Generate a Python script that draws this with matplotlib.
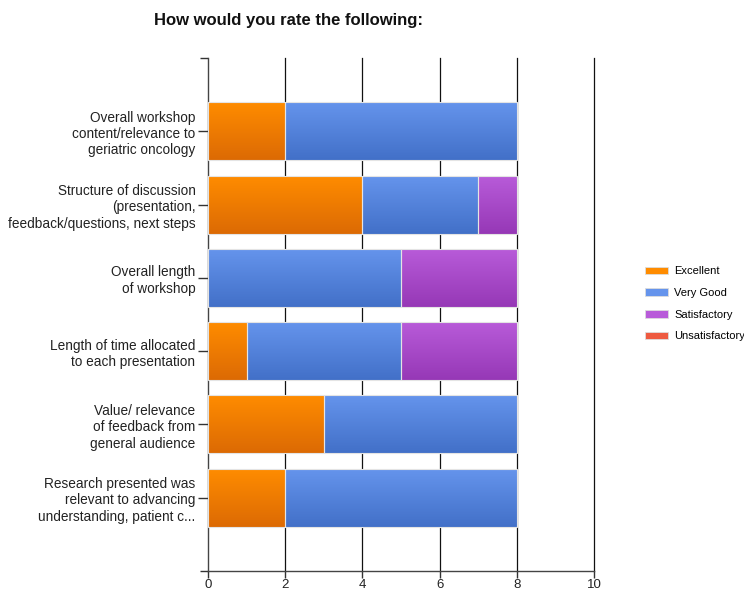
import numpy as np
import matplotlib.pyplot as plt
from matplotlib.colors import LinearSegmentedColormap
from matplotlib.patches import Patch

plt.rcParams['font.family'] = ['Liberation Sans', 'DejaVu Sans']

categories = [
    "Overall workshop\ncontent/relevance to\ngeriatric oncology",
    "Structure of discussion\n(presentation,\nfeedback/questions, next steps",
    "Overall length\nof workshop",
    "Length of time allocated\nto each presentation",
    "Value/ relevance\nof feedback from\ngeneral audience",
    "Research presented was\nrelevant to advancing\nunderstanding, patient c...",
]
series_names = ["Excellent", "Very Good", "Satisfactory", "Unsatisfactory"]
excellent = [2, 4, 0, 1, 3, 2]
very_good = [6, 3, 5, 4, 5, 6]
satisfactory = [0, 1, 3, 3, 0, 0]
unsatisfactory = [0, 0, 0, 0, 0, 0]
x_ticks = [0, 2, 4, 6, 8, 10]

# (top colour, bottom colour) for each series' vertical gradient
gradients = [
    ("#ff8c00", "#dc6a04"),
    ("#6594ec", "#4270c8"),
    ("#b85bd9", "#9638b6"),
    ("#ee5a40", "#d8402a"),
]

fig = plt.figure(figsize=(7.44, 5.92), dpi=100)
ax = fig.add_axes([208 / 744, 21 / 592, 386 / 744, 513 / 592])

n = len(categories)
ypos = np.arange(n, 0, -1)  # first category at the top
bar_h = 0.79

left = np.zeros(n)
grad = np.linspace(0, 1, 256).reshape(-1, 1)
for vals, (c_top, c_bot) in zip([excellent, very_good, satisfactory, unsatisfactory], gradients):
    vals = np.array(vals, dtype=float)
    bars = ax.barh(ypos, vals, left=left, height=bar_h, color=c_top,
                   edgecolor="#e4e4e4", linewidth=0.8, zorder=3)
    cmap = LinearSegmentedColormap.from_list("g", [c_top, c_bot])
    for rect, v in zip(bars, vals):
        if v <= 0:
            rect.set_visible(False)
            continue
        x0, y0 = rect.get_x(), rect.get_y()
        w, h = rect.get_width(), rect.get_height()
        im = ax.imshow(grad, cmap=cmap, aspect="auto", origin="upper",
                       extent=(x0, x0 + w, y0, y0 + h), zorder=3.5,
                       interpolation="bilinear")
        im.set_clip_path(rect)
        rect.set_facecolor("none")
        rect.set_zorder(4)
    left += vals

ax.set_xlim(0, 10)
ax.set_ylim(0, n + 1)
ax.set_xticks(x_ticks)
ax.set_xticklabels([str(t) for t in x_ticks], fontsize=9.5, color="#222222")
ax.set_yticks(ypos)
ax.set_yticklabels(categories, fontsize=9.8, color="#222222", linespacing=1.22)
ax.set_yticks([0, n + 1], minor=True)

for t in x_ticks[1:]:
    ax.axvline(t, color="#111111", linewidth=0.9, zorder=1, clip_on=False)

for s in ["top", "right"]:
    ax.spines[s].set_visible(False)
ax.spines["left"].set_color("#444444")
ax.spines["bottom"].set_color("#444444")
ax.spines["left"].set_linewidth(1.0)
ax.spines["bottom"].set_linewidth(1.0)
ax.tick_params(axis="y", which="major", length=7, width=1.0, color="#333333", pad=2)
ax.tick_params(axis="y", which="minor", length=6, width=1.0, color="#333333")
ax.tick_params(axis="x", length=5, width=1.0, color="#333333", pad=1)

handles = [Patch(facecolor=g[0], edgecolor="#dddddd", linewidth=0.6) for g in gradients]
fig.legend(handles, series_names, loc="upper left", bbox_to_anchor=(641 / 744, 1 - 262 / 592),
           frameon=False, fontsize=8, handlelength=2.0, handleheight=0.7,
           handletextpad=0.6, labelspacing=1.05, borderaxespad=0)

fig.text(289 / 744, 1 - 21 / 592, "How would you rate the following:", ha="center", va="center",
         fontsize=12, fontweight="bold", color="#111111")

fig.savefig("out.png", dpi=100)
